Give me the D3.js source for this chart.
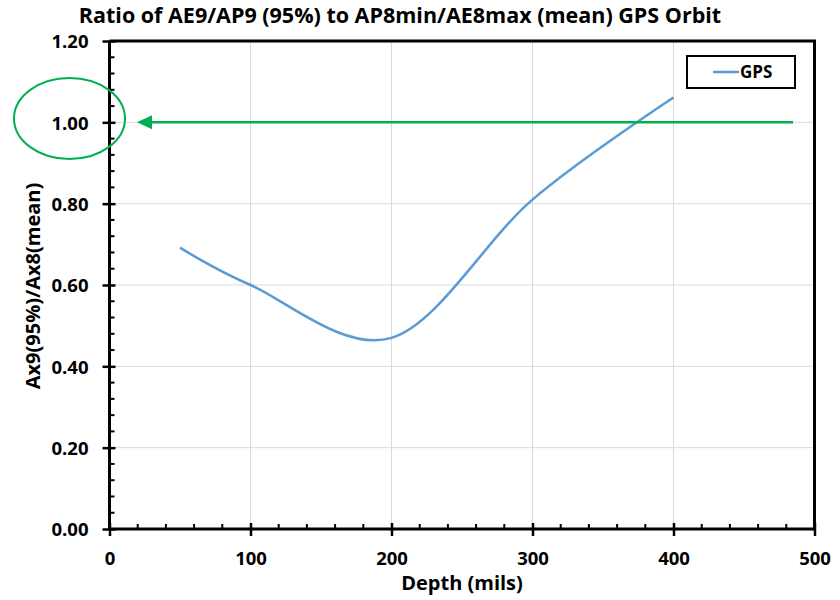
<!DOCTYPE html>
<html><head><meta charset="utf-8">
<script src="https://cdn.jsdelivr.net/npm/d3@7"></script>
<style>body{margin:0;background:#fff}svg{display:block}</style>
</head><body><svg id="c" width="840" height="600"></svg>
<script>
const depths = [50, 100, 200, 300, 400];
const ratios = [0.692, 0.600, 0.470, 0.810, 1.061];
const xTicks = [0, 100, 200, 300, 400, 500];
const yTicks = [0, 0.2, 0.4, 0.6, 0.8, 1.0, 1.2];
const seriesName = "GPS";
const title = "Ratio of AE9/AP9 (95%) to AP8min/AE8max (mean) GPS Orbit";
const xTitle = "Depth (mils)";
const yTitle = "Ax9(95%)/Ax8(mean)";
const refValue = 1.0;

const svg = d3.select("#c");
const font = "'Open Sans', 'DejaVu Sans', sans-serif";
const L = 109.5, R = 814.5, T = 41, B = 529;
const x = d3.scaleLinear().domain([0, 500]).range([L, R]);
const y = d3.scaleLinear().domain([0, 1.2]).range([B, T]);

// gridlines
svg.append("g").selectAll("line").data(xTicks.slice(1, -1)).join("line")
  .attr("x1", d => x(d)).attr("x2", d => x(d)).attr("y1", T).attr("y2", B)
  .attr("stroke", "#d9d9d9").attr("stroke-width", 1);
svg.append("g").selectAll("line").data(yTicks.slice(1, -1)).join("line")
  .attr("x1", L).attr("x2", R).attr("y1", d => y(d)).attr("y2", d => y(d))
  .attr("stroke", "#d9d9d9").attr("stroke-width", 1);

// frame top/right
svg.append("path").attr("d", `M${L},${T}H${R}V${B}`).attr("fill", "none")
  .attr("stroke", "#000").attr("stroke-width", 3);

// minor ticks (inside)
const xMinor = d3.range(0, 501, 20).filter(v => v % 100 !== 0);
svg.append("g").selectAll("line").data(xMinor).join("line")
  .attr("x1", d => x(d)).attr("x2", d => x(d)).attr("y1", B).attr("y2", B - 5)
  .attr("stroke", "#000").attr("stroke-width", 2);
const yMinor = d3.range(0, 1.2001, 0.04).filter((v, i) => i % 5 !== 0);
svg.append("g").selectAll("line").data(yMinor).join("line")
  .attr("x1", L).attr("x2", L + 5).attr("y1", d => y(d)).attr("y2", d => y(d))
  .attr("stroke", "#000").attr("stroke-width", 2);

// axes
const xAxis = d3.axisBottom(x).tickValues(xTicks).tickFormat(d3.format("d")).tickSizeInner(7).tickSizeOuter(0);
const gx = svg.append("g").attr("transform", `translate(0,${B})`).call(xAxis);
gx.select(".domain").attr("stroke-width", 3).attr("d", `M${L},0H${R}`);
gx.selectAll(".tick line").attr("stroke-width", 2.5).attr("y1", -6).attr("y2", 7);
gx.selectAll(".tick text").attr("font-family", font).attr("font-weight", "bold")
  .attr("font-size", 18.5).attr("fill", "#000").attr("y", 0).attr("dy", null).attr("transform", "translate(0,36)");

const yAxis = d3.axisLeft(y).tickValues(yTicks).tickFormat(d3.format(".2f")).tickSizeInner(7).tickSizeOuter(0);
const gy = svg.append("g").attr("transform", `translate(${L},0)`).call(yAxis);
gy.select(".domain").attr("stroke-width", 3).attr("d", `M0,${B}V${T}`);
gy.selectAll(".tick line").attr("stroke-width", 2.5).attr("x1", 6).attr("x2", -7);
gy.selectAll(".tick text").attr("font-family", font).attr("font-weight", "bold")
  .attr("font-size", 18.5).attr("fill", "#000").attr("x", -21).attr("dy", "0.36em");

// series
const line = d3.line().x((d, i) => x(depths[i])).y(d => y(d)).curve(d3.curveCardinal.tension(0));
svg.append("path").datum(ratios).attr("d", line).attr("fill", "none")
  .attr("stroke", "#5B9BD5").attr("stroke-width", 2.5);

// reference arrow
const green = "#00B050";
svg.append("line").attr("x1", 150).attr("x2", 793).attr("y1", y(refValue)).attr("y2", y(refValue))
  .attr("stroke", green).attr("stroke-width", 2.5);
svg.append("path").attr("d", `M137,${y(refValue)}L152,${y(refValue) - 7}L152,${y(refValue) + 7}Z`).attr("fill", green);
svg.append("ellipse").attr("cx", 69.5).attr("cy", 118.5).attr("rx", 55.5).attr("ry", 40.5)
  .attr("fill", "none").attr("stroke", green).attr("stroke-width", 2);

// legend
svg.append("rect").attr("x", 687).attr("y", 56).attr("width", 108).attr("height", 32)
  .attr("fill", "#fff").attr("stroke", "#000").attr("stroke-width", 2);
svg.append("line").attr("x1", 713).attr("x2", 739).attr("y1", 72).attr("y2", 72)
  .attr("stroke", "#5B9BD5").attr("stroke-width", 2.5);
svg.append("text").attr("x", 740).attr("y", 78).text(seriesName)
  .attr("font-family", font).attr("font-weight", "bold").attr("font-size", 17);

// titles
svg.append("text").attr("x", 400).attr("y", 23).attr("text-anchor", "middle").text(title)
  .attr("font-family", font).attr("font-weight", "bold").attr("font-size", 21.5);
svg.append("text").attr("x", 462).attr("y", 590).attr("text-anchor", "middle").text(xTitle)
  .attr("font-family", font).attr("font-weight", "bold").attr("font-size", 20);
svg.append("text").attr("transform", "translate(40,286) rotate(-90)").attr("text-anchor", "middle").text(yTitle)
  .attr("font-family", font).attr("font-weight", "bold").attr("font-size", 20);
</script></body></html>
